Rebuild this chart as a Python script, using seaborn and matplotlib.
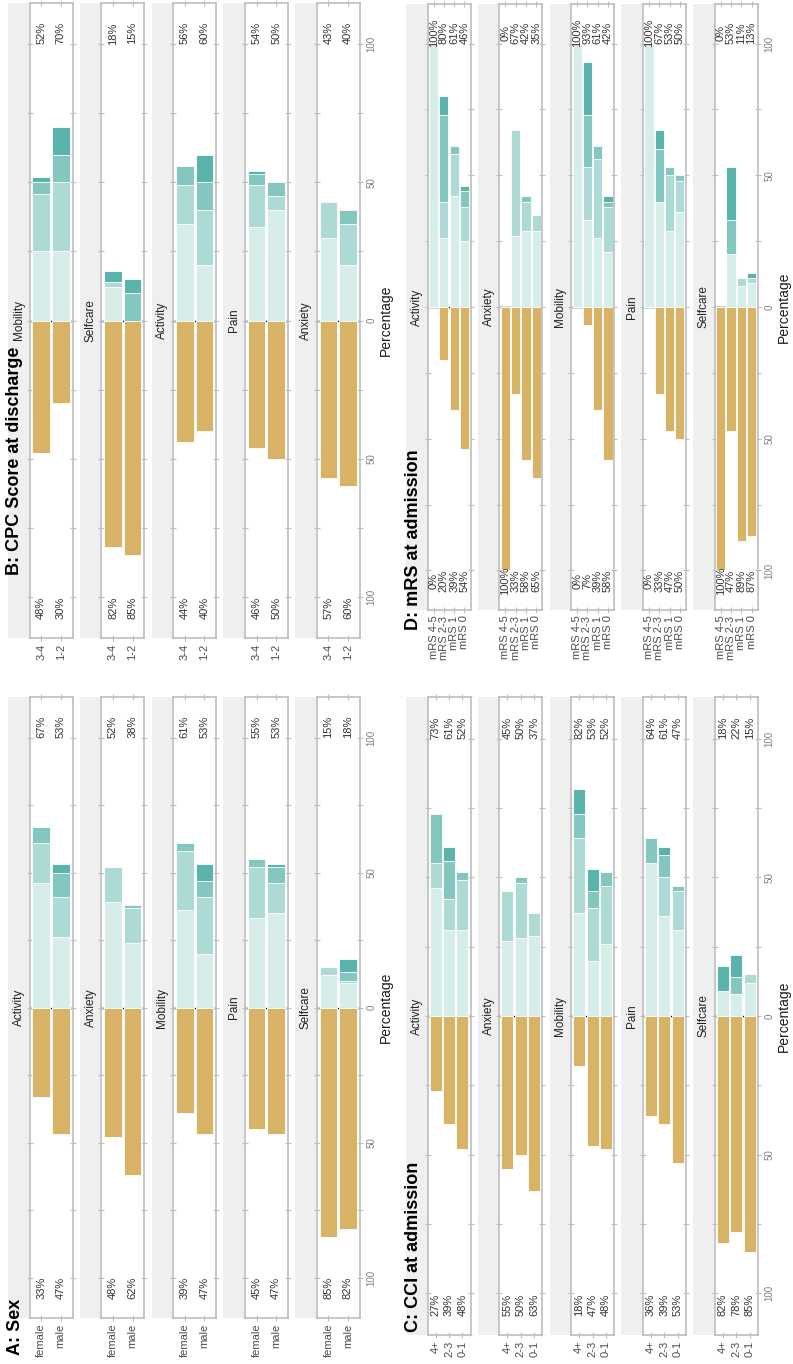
import numpy as np
import matplotlib
matplotlib.use("Agg")
import matplotlib.pyplot as plt
import seaborn as sns

sns.set_style("white")
plt.rcParams["font.family"] = ["Liberation Sans", "DejaVu Sans"]

# --- Data: percentage per facet and group ---
# *_neg: lowest level (gold, drawn to the left/down), *_pos: levels 2..5 (teal, stacked)
sex_groups = ["female", "male"]
sex_facets = ["Activity", "Anxiety", "Mobility", "Pain", "Selfcare"]
sex_neg = [[33, 47], [48, 62], [39, 47], [45, 47], [85, 82]]
sex_pos = [
    [[46, 15, 6, 0], [26, 15, 9, 3]],
    [[39, 13, 0, 0], [24, 13, 1, 0]],
    [[36, 22, 3, 0], [20, 21, 6, 6]],
    [[33, 19, 3, 0], [35, 11, 6, 1]],
    [[12, 3, 0, 0], [9, 1, 3, 5]],
]

cpc_groups = ["3-4", "1-2"]
cpc_facets = ["Mobility", "Selfcare", "Activity", "Pain", "Anxiety"]
cpc_neg = [[48, 30], [82, 85], [44, 40], [46, 50], [57, 60]]
cpc_pos = [
    [[25, 21, 4, 2], [25, 25, 10, 10]],
    [[12, 2, 0, 4], [0, 0, 10, 5]],
    [[35, 14, 7, 0], [20, 20, 10, 10]],
    [[34, 15, 4, 1], [40, 5, 5, 0]],
    [[30, 13, 0, 0], [20, 15, 5, 0]],
]

cci_groups = ["4+", "2-3", "0-1"]
cci_facets = ["Activity", "Anxiety", "Mobility", "Pain", "Selfcare"]
cci_neg = [[27, 39, 48], [55, 50, 63], [18, 47, 48], [36, 39, 53], [82, 78, 85]]
cci_pos = [
    [[46, 9, 18, 0], [31, 11, 14, 5], [31, 18, 3, 0]],
    [[27, 18, 0, 0], [28, 20, 2, 0], [29, 8, 0, 0]],
    [[37, 27, 9, 9], [20, 19, 6, 8], [26, 21, 5, 0]],
    [[55, 0, 9, 0], [36, 14, 8, 3], [31, 14, 2, 0]],
    [[9, 0, 0, 9], [8, 0, 6, 8], [12, 3, 0, 0]],
]

mrs_groups = ["mRS 4-5", "mRS 2-3", "mRS 1", "mRS 0"]
mrs_facets = ["Activity", "Anxiety", "Mobility", "Pain", "Selfcare"]
mrs_neg = [[0, 20, 39, 54], [100, 33, 58, 65], [0, 7, 39, 58], [0, 33, 47, 50], [100, 47, 89, 87]]
mrs_pos = [
    [[100, 0, 0, 0], [26, 14, 33, 7], [42, 16, 3, 0], [25, 13, 6, 2]],
    [[0, 0, 0, 0], [27, 40, 0, 0], [29, 11, 2, 0], [29, 6, 0, 0]],
    [[100, 0, 0, 0], [33, 20, 20, 20], [26, 30, 5, 0], [21, 17, 2, 2]],
    [[100, 0, 0, 0], [40, 0, 20, 7], [29, 21, 3, 0], [36, 12, 2, 0]],
    [[0, 0, 0, 0], [20, 0, 13, 20], [8, 3, 0, 0], [9, 2, 0, 2]],
]

# --- Styles ---
GOLD = "#D8B365"
TEAL = ["#D6EDEA", "#ADDAD5", "#83C7C0", "#5AB4AC"]
STRIP = "#EFEFEF"
BORDER = "#BEBEBE"

W, H = 793, 1364
COL_PITCH = 71.8
STRIP_W = 21.5
BOX_W = 43


def px_rect(x, y_top, w, h):
    return [x / W, 1 - (y_top + h) / H, w / W, h / H]


fig = plt.figure(figsize=(W / 100, H / 100), dpi=100)


def draw_panel(title, groups, facets, neg, pos, x0, y_top, y_bot, title_x, title_y):
    n = len(groups)
    h = y_bot - y_top
    for i, facet in enumerate(facets):
        left = x0 + i * COL_PITCH
        # facet strip
        sax = fig.add_axes(px_rect(left, y_top, STRIP_W, h))
        sax.set_facecolor(STRIP)
        sax.set_xticks([])
        sax.set_yticks([])
        for sp in sax.spines.values():
            sp.set_visible(False)
        sax.text(0.5, 0.5, facet, rotation=90, ha="center", va="center",
                 fontsize=8.5, color="#222222", transform=sax.transAxes)

        ax = fig.add_axes(px_rect(left + STRIP_W, y_top, BOX_W, h))
        ax.axhline(0, color="black", lw=1, zorder=0.5)
        cum = np.cumsum(np.array(pos[i]), axis=1)
        for lev in range(3, -1, -1):
            sns.barplot(x=groups, y=cum[:, lev], order=groups, color=TEAL[lev],
                        saturation=1, width=0.9, edgecolor="white", linewidth=0.6,
                        errorbar=None, ax=ax)
        sns.barplot(x=groups, y=-np.array(neg[i]), order=groups, color=GOLD,
                    saturation=1, width=0.9, edgecolor="white", linewidth=0.6,
                    errorbar=None, ax=ax)

        for j in range(n):
            ax.text(j, -104, f"{neg[i][j]}%", rotation=90, ha="center", va="center",
                    fontsize=8, color="#333333")
            ax.text(j, 104, f"{cum[j, -1]}%", rotation=90, ha="center", va="center",
                    fontsize=8, color="#333333")

        ax.set_xlim(-0.6, n - 0.4)
        ax.set_ylim(-115, 115)
        ax.set_xlabel("")
        ax.set_ylabel("")
        ax.set_xticks(range(n), groups, rotation=90)
        ax.tick_params(axis="x", bottom=True, top=True, direction="inout", length=4,
                       color=BORDER, labelsize=8, labelcolor="#4D4D4D", pad=2)
        last = i == len(facets) - 1
        yt = np.arange(-100, 101, 25)
        ax.set_yticks(yt, [str(abs(v)) if v % 50 == 0 else "" for v in yt])
        ax.tick_params(axis="y", left=True, right=True, direction="inout", length=4,
                       color=BORDER, labelleft=False, labelright=last, labelsize=7,
                       labelcolor="#7F7F7F", pad=3)
        if last:
            for t in ax.get_yticklabels():
                t.set_rotation(90)
                t.set_va("center")
        for sp in ax.spines.values():
            sp.set_color(BORDER)
            sp.set_linewidth(1.2)

    # percentage axis label
    right = x0 + 4 * COL_PITCH + STRIP_W + BOX_W
    fig.text((right + 26) / W, 1 - (y_top + h / 2) / H, "Percentage", rotation=90,
             ha="center", va="center", fontsize=10, color="#1A1A1A")
    fig.text(title_x / W, 1 - title_y / H, title, rotation=90, ha="center", va="bottom",
             fontsize=13, fontweight="bold", color="black")


draw_panel("A: Sex", sex_groups, sex_facets, sex_neg, sex_pos, 8, 697, 1318, 15, 1355)
draw_panel("B: CPC Score at discharge", cpc_groups, cpc_facets, cpc_neg, cpc_pos,
           8, 3, 638, 15, 575)
draw_panel("C: CCI at admission", cci_groups, cci_facets, cci_neg, cci_pos,
           406, 697, 1335, 413, 1332)
draw_panel("D: mRS at admission", mrs_groups, mrs_facets, mrs_neg, mrs_pos,
           406, 4, 610, 413, 630)

fig.savefig("out.png", dpi=100)
